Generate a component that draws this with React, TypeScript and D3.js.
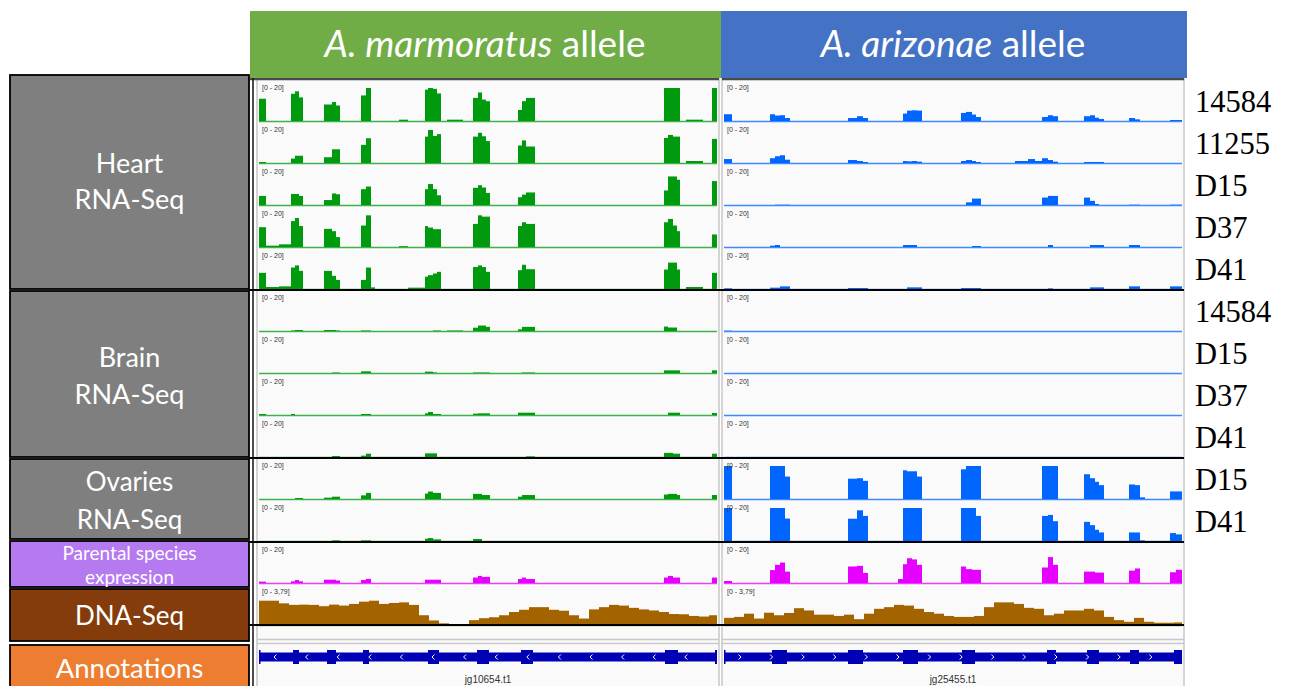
import React from 'react';
import * as d3 from 'd3';

// ---------- DATA ----------
// bin extents (genomic offset units) for the A. marmoratus allele locus
const marBins: [number, number][] = [
  [0, 7], [7, 20], [20, 32], [32, 36], [36, 40], [40, 44], [65, 73], [73, 77], [77, 81],
  [102, 107], [107, 112], [112, 116], [140, 149], [149, 166], [166, 169], [169, 174], [174, 178],
  [178, 182], [188, 204], [214, 219], [219, 223], [223, 227], [227, 231], [259, 263], [263, 267],
  [267, 276], [405, 409], [409, 414], [414, 418], [418, 421], [427, 444], [453, 458],
];
// bin extents for the A. arizonae allele locus
const ariBins: [number, number][] = [
  [0, 8], [46, 51], [51, 56], [56, 61], [61, 66], [124, 133], [133, 139], [139, 144], [174, 179],
  [179, 183], [183, 188], [188, 193], [193, 198], [237, 242], [242, 248], [248, 252], [252, 257],
  [291, 304], [304, 311], [311, 318], [318, 324], [324, 329], [329, 334], [360, 366], [366, 371],
  [371, 375], [375, 380], [405, 411], [411, 416], [416, 421], [446, 452], [452, 458],
];

const sampleLabels = ['14584', '11255', 'D15', 'D37', 'D41', '14584', 'D15', 'D37', 'D41', 'D15', 'D41'];
const groupLabels = [
  { lines: ['Heart', 'RNA-Seq'] },
  { lines: ['Brain', 'RNA-Seq'] },
  { lines: ['Ovaries', 'RNA-Seq'] },
  { lines: ['Parental species', 'expression'] },
  { lines: ['DNA-Seq'] },
  { lines: ['Annotations'] },
];
const rnaRangeLabel = '[0 - 20]';
const dnaRangeLabel = '[0 - 3,79]';
const rnaMax = 20;
const dnaMax = 3.79;

// A. marmoratus allele coverage
const marHeart14584 = [13.5,0,0,16.5,18,14.3,10,11.5,9.4,15.5,20,0,0.8,0,19,20,19.5,16.7,0.8,14,17.3,13,12,6.7,12,14,20,20,20,20,0.8,20];
const marHeart11255 = [0.6,0,0,2.7,4.4,4.4,3.5,8.3,8.3,11,15,0,0,0,16,20,16.4,17.5,0,16,18.3,16.2,13.3,10.6,13.7,10,15.2,17,16,16,1.2,14.6];
const marHeartD15 = [5.5,0,0,6.7,6.7,5.5,3,7,6.5,9.6,11.2,0,0,0,9.6,12.7,9.6,5.9,0,10.4,12,10.6,7.3,4.7,6.3,7.6,8.8,17.3,17.3,15.3,0,14.5];
const marHeartD37 = [12,0.8,1.6,15.7,17.6,12.7,11,9.6,6,13,19.2,0,0.5,0,12.7,11.8,10.8,10.8,0,14,19.2,18.4,18.4,12.7,15,14,15,17,13,9.6,0,7.6];
const marHeartD41 = [9.8,1.2,1.6,13,14.3,11,11,8,5.5,5.5,13,1,0,0.8,7.5,8.4,9.4,10.4,0,13.3,14.3,13.3,10.4,11.4,14.7,12,11.8,16,16,11.8,1.2,9.8];
const marBrain14584 = [0,0,0,0.3,0.6,0.6,0.6,0.6,0.3,0.3,0.3,0,0,0,0,0,0.3,0.3,0.3,2,3.3,3.3,2.5,1,2.5,2.5,2.7,2.1,2.1,0,0,0];
const marBrainD15 = [0,0,0,0,0,0,0,0.3,0.3,1,1,0,0,0,0.8,0.8,0.3,0,0,0.3,0.3,0.3,0.3,0,0.3,0.3,1.6,1.6,1.6,1.6,0,1.6];
const marBrainD37 = [0.6,0,0,0.6,0,0,0,0,0,0.6,0.6,0,0,0,1,1.8,0.6,0.6,0,0.8,1,1,1,1.4,1.4,1.4,0,1.4,1.4,1.4,0,1.2];
const marBrainD41 = [0,0,0,0,0,0,0,0.6,0.6,0.8,2,0,0,0,2.2,2.2,2.2,0,0,0,0,0,0,0,0,0.4,2.5,2.5,2,2,0,2];
const marOvariesD15 = [0,0,0,0,0.6,0.6,0.8,1.4,1.4,2.2,3.7,0,0,0,3.3,4.5,3.7,3.7,0,3.1,3.1,2.4,2.4,1.4,2.4,2.4,2.7,3.1,3.1,2.4,0,2.4];
const marOvariesD41 = [0,0,0,0,0,0,0,0.4,0.4,0.4,0.4,0,0,0,1.4,1.8,1,1,0,1.2,1.2,0,0,0,0,0,0,0,0,0,0,0];
const marParental = [0.8,0,0,1,1.8,1,2,2,1.5,1.8,2.5,0,0,0,2,2,2,2,0,3.3,4.3,3.7,3.7,2.4,3.3,2.4,3.3,4.3,3.3,3.3,0,3.3];
const marDNA = [2.79,2.79,2.49,2.31,2.34,2.31,2.16,2.34,2.23,2.42,2.68,2.79,2.42,2.53,2.6,2.31,1.12,0.52,0.19,0.04,0.04,0.56,0.78,0.89,1.12,1.49,1.75,2.05,2.05,1.75,1.64,1.12,0.74,1.79,2.05,2.31,2.23,1.97,1.79,1.67,1.49,1.26,1.23,1.04,0.97,1.12];

// A. arizonae allele coverage
const ariHeart14584 = [4.1,4.1,3.3,3.5,1.8,1.8,2.9,1.8,0,4.5,6.3,6.5,6.3,4.9,5.5,3.9,2.4,0,0,0,2.4,3.5,2.9,2.9,3.5,2,1.2,1.8,1,0,0.6,0.6];
const ariHeart11255 = [2.4,2.9,4.1,4.7,2,1.8,1.2,0.6,0,1.2,1,1.2,0.8,1.2,1.8,1.2,0.6,1.2,2.4,1.2,2.9,1.8,0.8,0.6,0.6,0.6,0.6,0,0,0,0,0];
const ariHeartD15 = [0,0,0.2,0.2,0.2,0,0,0,0,0,0,0,0,0,1.6,3.9,3.9,0,0,0,4.5,5.5,5.5,4.5,2.5,0.6,0,0.2,0.2,0,0.2,0.2];
const ariHeartD37 = [0,0.8,1.2,0,0,0,0,0,0,1.2,1.2,1.2,0,0,0,0.6,0.6,0,0,0,0,1.2,0,0,1.2,1.2,1.2,1.2,1.2,0,0,0];
const ariHeartD41 = [0.4,0.8,0.8,1.6,1.6,0.6,0.6,0.6,0,0,1,1,1,0.6,0.6,0.6,0.6,0,0,0,0,0.4,0,0,1,1,1,1.6,1.6,0,1.6,1.6];
const ariBrain14584 = [0.2,0,0,0,0,0,0,0,0,0,0,0,0,0,0,0,0,0,0,0,0,0,0,0,0,0,0,0,0,0,0,0];
const ariBrainD15 = [0,0,0,0,0,0,0,0,0,0,0,0,0,0,0,0,0,0,0,0,0,0,0,0,0,0,0,0,0,0,0,0];
const ariBrainD37 = [0,0,0,0,0,0,0,0,0,0,0,0,0,0,0,0,0,0,0,0,0,0,0,0,0,0,0,0,0,0,0,0];
const ariBrainD41 = [0,0,0,0,0,0,0,0,0,0,0,0,0,0,0,0,0,0,0,0,0,0,0,0,0,0,0,0,0,0,0,0];
const ariOvariesD15 = [20,20,20,20,13.6,12.3,12.6,11,0,17.4,16.8,16.8,13.6,18,20,20,20,0,0,0,20,20,20,15,12.6,10.4,8.4,8.8,8.4,1,4.6,4.6];
const ariOvariesD41 = [20,20,20,20,13.6,13.5,18.6,15.2,0,20,20,20,20,20,20,20,15.2,0,0,0,15.2,15.8,12,11.6,9.6,6.8,5.2,5.2,5.2,0.4,4.8,4];
const ariParental = [1.2,7.8,11,12.4,6.9,10,10.4,6.1,2.4,11.4,15,14.3,11,10,8.4,8,8,0,0,0,9.4,15.7,11,6.9,6.9,6.3,6.3,7.5,8.8,0,6.5,8];
const ariDNA = [0.82,0.93,1.3,0.74,1.41,1.12,1.38,1.93,1.67,1.19,1.19,1.04,1.19,0.67,1.3,1.86,2.05,2.31,2.23,1.86,1.49,1.3,1.04,0.93,0.93,1.04,2.05,2.6,2.6,2.42,1.97,1.86,1.12,1.3,1.67,1.67,1.86,1.67,0.93,0.56,0.37,0.82,0.37,0.26,0.26,0.3];

// gene models (exon extents)
const marGene = 'jg10654.t1';
const ariGene = 'jg25455.t1';
const marExons: [number, number][] = [[0, 1], [34, 40], [68, 77], [104, 110], [169, 180], [218, 230], [262, 274], [406, 419], [456, 458]];
const ariExons: [number, number][] = [[0, 1], [48, 63], [124, 139], [179, 194], [238, 251], [323, 332], [363, 375], [406, 415], [450, 458]];

// ---------- LAYOUT ----------
const LOCUS = 458;
const DNA_BIN = 10;
const TOP = 80;
const ROW = 42;
const FONT = 'Lato, "Open Sans", sans-serif';

const marTracks = [marHeart14584, marHeart11255, marHeartD15, marHeartD37, marHeartD41, marBrain14584, marBrainD15, marBrainD37, marBrainD41, marOvariesD15, marOvariesD41];
const ariTracks = [ariHeart14584, ariHeart11255, ariHeartD15, ariHeartD37, ariHeartD41, ariBrain14584, ariBrainD15, ariBrainD37, ariBrainD41, ariOvariesD15, ariOvariesD41];

type PanelDef = {
  x0: number; color: string; bins: [number, number][]; tracks: number[][]; parental: number[];
  dna: number[]; exons: [number, number][]; gene: string; dir: number; title: string; frame: [number, number];
};

const panels: PanelDef[] = [
  { x0: 259, color: '#009a0e', bins: marBins, tracks: marTracks, parental: marParental, dna: marDNA, exons: marExons, gene: marGene, dir: -1, title: 'A. marmoratus', frame: [257, 719] },
  { x0: 724, color: '#0066ff', bins: ariBins, tracks: ariTracks, parental: ariParental, dna: ariDNA, exons: ariExons, gene: ariGene, dir: 1, title: 'A. arizonae', frame: [722, 1184] },
];

function BarTrack({ xs, y0, bins, values, color, max, label }: any) {
  const ys = d3.scaleLinear().domain([0, max]).range([y0 + 41, y0 + 8]).clamp(true);
  const [r0, r1] = xs.range();
  return (
    <g>
      {bins.map((b: [number, number], i: number) => {
        const v = values[i];
        if (!v) return null;
        return <rect key={i} x={xs(b[0])} width={xs(b[1]) - xs(b[0])} y={ys(v)} height={ys(0) - ys(v)} fill={color} />;
      })}
      <line x1={r0} x2={r1} y1={ys(0) + 0.5} y2={ys(0) + 0.5} stroke={color} strokeWidth={1.5} opacity={0.75} />
      <text x={r0 + 3} y={y0 + 10} fontSize={7} fontFamily='"Liberation Sans", Arial, sans-serif' fill="#333">{label}</text>
    </g>
  );
}

function Panel({ p }: { p: PanelDef }) {
  const xs = d3.scaleLinear().domain([0, LOCUS]).range([p.x0, p.x0 + LOCUS]);
  const dnaBins: [number, number][] = p.dna.map((_, k) => [k * DNA_BIN, Math.min((k + 1) * DNA_BIN, LOCUS)]);
  const parentalY = TOP + ROW * p.tracks.length;
  const dnaY = parentalY + ROW;
  const geneY = 657;
  const chevrons = d3.range(p.x0 + 16, p.x0 + LOCUS - 2, 31.6);
  return (
    <g>
      <rect x={p.frame[0]} y={79} width={p.frame[1] - p.frame[0]} height={620} fill="#fafafa" stroke="#c8c8c8" strokeWidth={1.5} />
      {p.tracks.map((vals, i) => (
        <BarTrack key={i} xs={xs} y0={TOP + ROW * i} bins={p.bins} values={vals} color={p.color} max={rnaMax} label={rnaRangeLabel} />
      ))}
      <BarTrack xs={xs} y0={parentalY} bins={p.bins} values={p.parental} color="#e600ff" max={rnaMax} label={rnaRangeLabel} />
      <BarTrack xs={xs} y0={dnaY} bins={dnaBins} values={p.dna} color="#a36400" max={dnaMax} label={dnaRangeLabel} />
      <line x1={p.frame[0]} x2={p.frame[1]} y1={639.5} y2={639.5} stroke="#c8c8c8" strokeWidth={1.5} />
      <line x1={p.frame[0]} x2={p.frame[1]} y1={643.5} y2={643.5} stroke="#c8c8c8" strokeWidth={1.5} />
      <rect x={p.frame[0] + 1} y={644.5} width={p.frame[1] - p.frame[0] - 2} height={50} fill="#fafafa" />
      <rect x={xs(0)} y={geneY - 4.5} width={xs(LOCUS) - xs(0)} height={9} fill="#0000b4" />
      {p.exons.map((e, i) => (
        <rect key={i} x={xs(e[0])} y={geneY - 7} width={Math.max(1.5, xs(e[1]) - xs(e[0]))} height={14} fill="#0000b4" />
      ))}
      {chevrons.map((cx, i) => (
        <polyline key={i} points={`${cx - p.dir * 1.5},${geneY - 2.5} ${cx + p.dir * 1},${geneY} ${cx - p.dir * 1.5},${geneY + 2.5}`} fill="none" stroke="#fff" strokeWidth={1} />
      ))}
      <text x={xs(LOCUS / 2)} y={683} textAnchor="middle" fontSize={10} fontFamily='"Liberation Sans", Arial, sans-serif' fill="#333">{p.gene}</text>
      <line x1={p.frame[0] - (p.dir < 0 ? 7 : 0)} x2={p.frame[1]} y1={79} y2={79} stroke="#4a4a4a" strokeWidth={2.5} />
    </g>
  );
}

export default function App() {
  const groupSeps = [290, 458, 542, 625];
  const boxes = [
    { y: 75, h: 214, fill: '#7f7f7f', size: 27, base: [173, 209] },
    { y: 291, h: 166, fill: '#7f7f7f', size: 27, base: [367, 404] },
    { y: 459, h: 80, fill: '#7f7f7f', size: 26, base: [491, 529] },
    { y: 541, h: 46, fill: '#b57af0', size: 19, base: [560, 584] },
    { y: 589, h: 52, fill: '#843c0c', size: 26, base: [625] },
    { y: 645, h: 50, fill: '#ed7d31', size: 27.5, base: [678] },
  ];
  return (
    <svg width={1291} height={686} style={{ position: 'absolute', left: 0, top: 0, background: '#fff' }}>
      {panels.map((p, i) => <Panel key={i} p={p} />)}
      {groupSeps.map((y, i) => (
        <line key={i} x1={249} x2={1184} y1={y} y2={y} stroke="#000" strokeWidth={2} />
      ))}
      <line x1={253} x2={253} y1={78} y2={686} stroke="#111" strokeWidth={1.5} />
      {boxes.map((b, i) => (
        <g key={i}>
          <rect x={10} y={b.y} width={239} height={b.h} fill={b.fill} stroke="#000" strokeWidth={1.8} />
          {groupLabels[i].lines.map((t, j) => (
            <text key={j} x={129.5} y={b.base[j]} textAnchor="middle" fill="#fff" fontSize={b.size} fontFamily={FONT}>{t}</text>
          ))}
        </g>
      ))}
      <rect x={250} y={11} width={471} height={67} fill="#70ad47" />
      <rect x={721} y={11} width={466} height={67} fill="#4472c4" />
      <text x={485} y={57} textAnchor="middle" fill="#fff" fontSize={37} fontFamily={FONT}>
        <tspan fontStyle="italic">{panels[0].title}</tspan> allele
      </text>
      <text x={953} y={57} textAnchor="middle" fill="#fff" fontSize={37} fontFamily={FONT}>
        <tspan fontStyle="italic">{panels[1].title}</tspan> allele
      </text>
      {sampleLabels.map((s, i) => (
        <text key={i} x={1195} y={TOP + ROW * i + 32} fontSize={30.5} fontFamily='"Liberation Serif", "Times New Roman", serif' fill="#000">{s}</text>
      ))}
    </svg>
  );
}
